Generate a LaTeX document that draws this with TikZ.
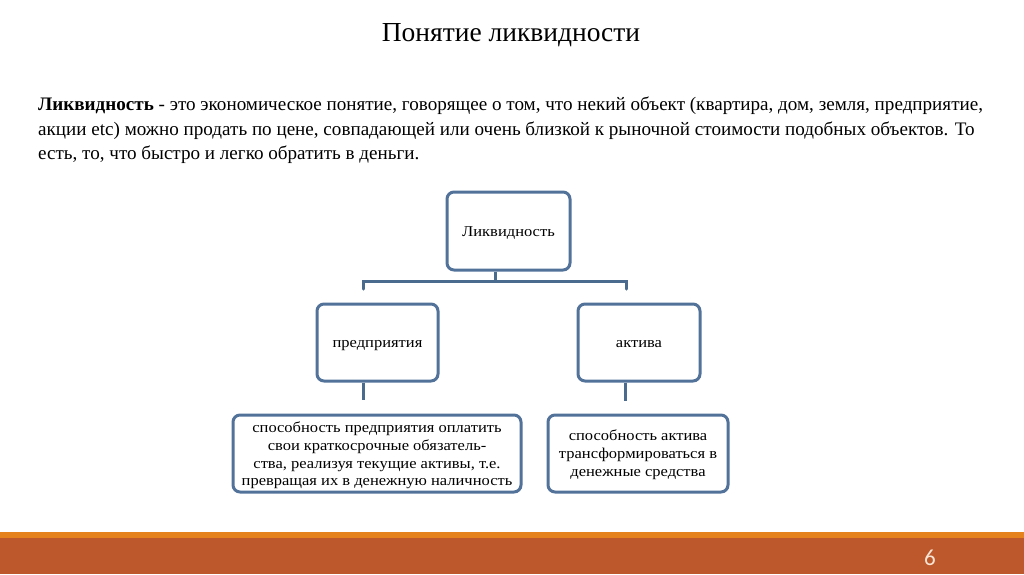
\documentclass[tikz,border=0pt]{standalone}
\usepackage{fontspec}
\setmainfont{Liberation Serif}
\newfontfamily\diagfont[FakeStretch=1.1]{Liberation Serif}
\newfontfamily\numfont{Carlito}
\definecolor{boxline}{HTML}{52729A}
\definecolor{connline}{HTML}{4A6A8E}
\definecolor{footorange}{HTML}{E6821E}
\definecolor{footband}{HTML}{BC582C}
\definecolor{numcol}{HTML}{F8E4D4}
\newcommand{\lowtxt}[2]{\raisebox{-#1}[\height][\depth]{#2}}
\tikzset{
  box/.style={draw=boxline, line width=3pt, rounded corners=7pt, fill=white, align=center, inner sep=0pt, font=\diagfont\fontsize{15}{17.8}\selectfont},
  conn/.style={draw=connline, line width=3pt},
}
\begin{document}
\begin{tikzpicture}[x=1pt,y=-1pt]
\useasboundingbox (0,0) rectangle (1024,574);
% title
\node[font=\fontsize{27.5}{32}\selectfont] (title) at (511,35) {Понятие ликвидности};
% paragraph
\node[anchor=north west, align=left, inner sep=0pt, font=\fontsize{19.1}{24.5}\selectfont] (para) at (38,97)
{\textbf{Ликвидность} - это экономическое понятие, говорящее о том, что некий объект (квартира, дом, земля, предприятие,\\
акции etc) можно продать по цене, совпадающей или очень близкой к рыночной стоимости подобных объектов. То\\
есть, то, что быстро и легко обратить в деньги.};
% boxes
\node[box, minimum width=123pt, minimum height=78pt] (A) at (508.5,231) {\lowtxt{2pt}{Ликвидность}};
\node[box, minimum width=121pt, minimum height=77pt] (B) at (377.5,342.5) {\lowtxt{3pt}{предприятия}};
\node[box, minimum width=122pt, minimum height=77pt] (C) at (639,342.5) {\lowtxt{2pt}{актива}};
\node[box, minimum width=288pt, minimum height=77pt] (D) at (377,453.5) {\lowtxt{2pt}{\parbox{280pt}{\centering способность предприятия оплатить\\свои краткосрочные обязатель-\\ства, реализуя текущие активы, т.е.\\превращая их в денежную наличность}}};
\node[box, minimum width=180pt, minimum height=77pt] (E) at (638,453.5) {\lowtxt{1pt}{\parbox{175pt}{\centering способность актива\\трансформироваться в\\денежные средства}}};
% connectors
\coordinate (j) at (495,281);
\coordinate (tl) at (363,289);
\coordinate (tr) at (626,289);
\coordinate (sb) at (363,400);
\coordinate (sc) at (625,401);
\draw[conn] (A.south -| j) -- (j);
\draw[conn, line cap=round] (tl) -- (tl |- j) -- (tr |- j) -- (tr);
\draw[conn] (B.south -| sb) -- (sb);
\draw[conn] (C.south -| sc) -- (sc);
% footer
\fill[footorange] (0,532) rectangle (1024,537.5);
\fill[footband] (0,537.5) rectangle (1024,574);
\node[font=\numfont\fontsize{23}{25}\selectfont, text=numcol] (num) at (930,558) {6};
\end{tikzpicture}
\end{document}
